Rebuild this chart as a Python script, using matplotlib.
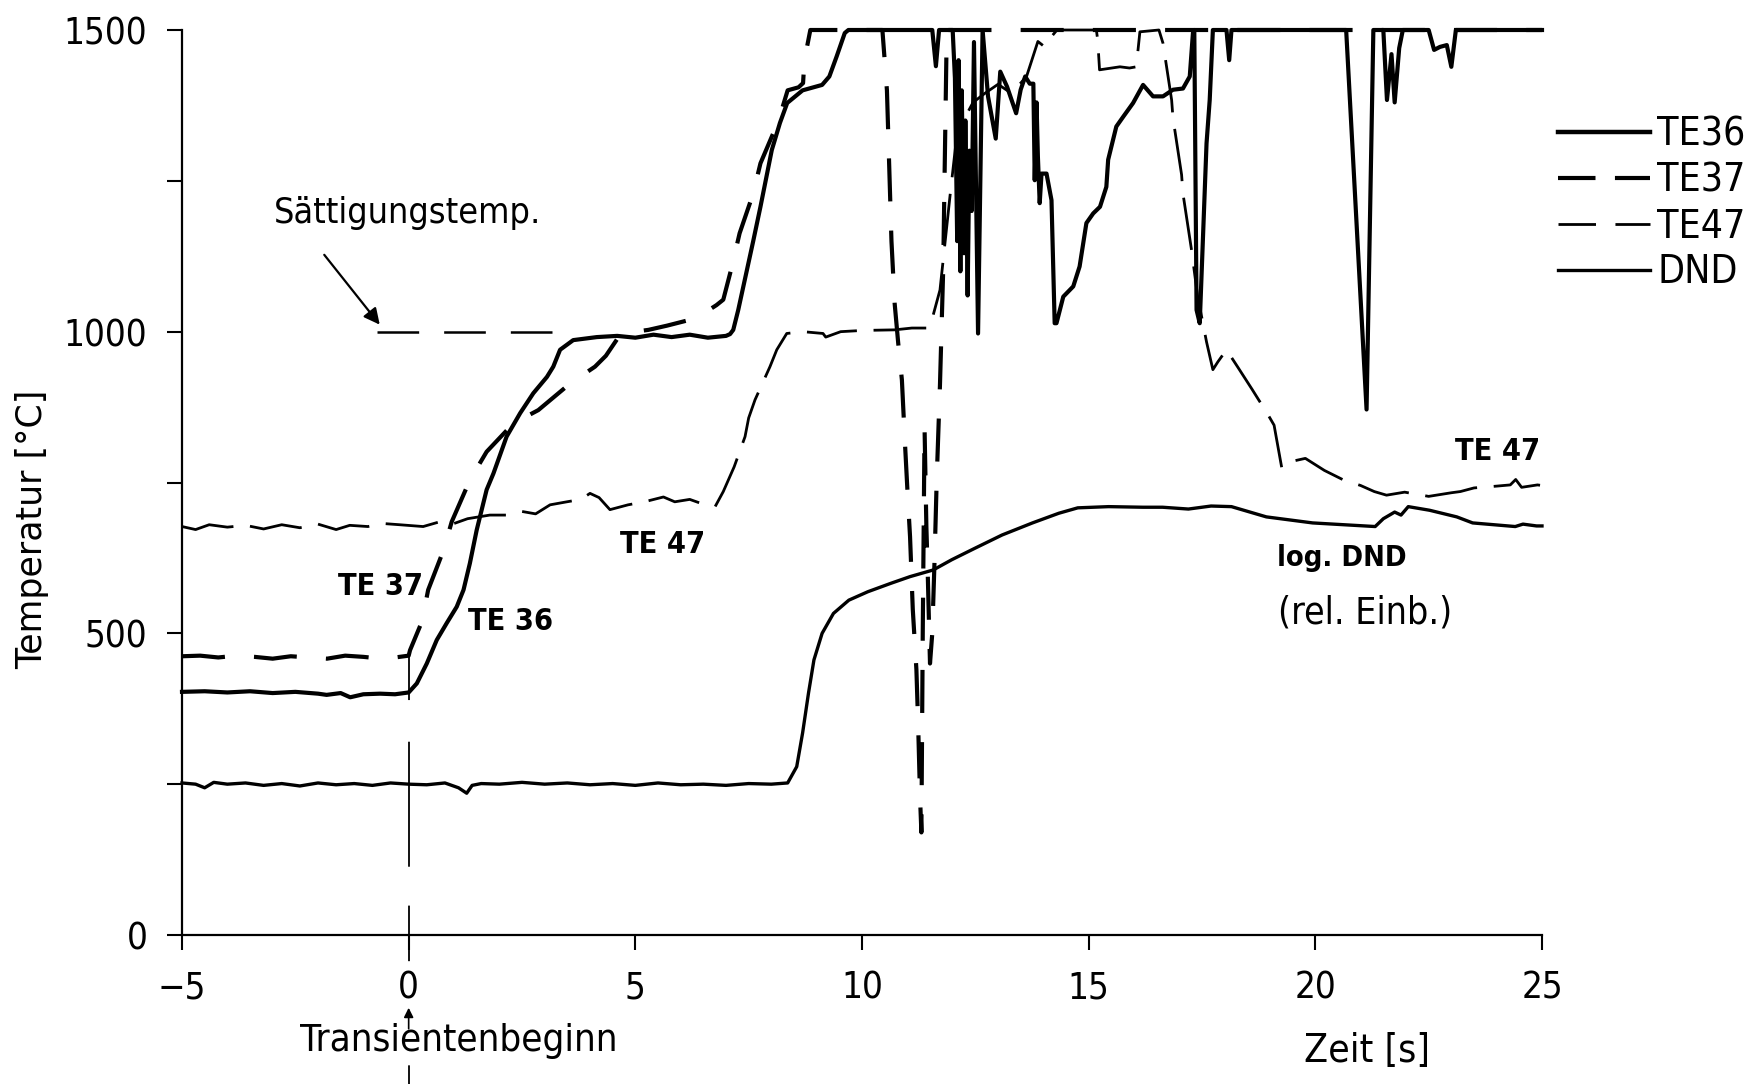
import numpy as np
import matplotlib
matplotlib.use('Agg')
import matplotlib.pyplot as plt
from matplotlib import font_manager
from matplotlib.lines import Line2D

# pick a condensed face if one is installed, the original lettering is narrow
fonts = font_manager.fontManager.ttflist
NARROW, STRETCH, K = 'DejaVu Sans', 'normal', 1.0
for f in fonts:
    if f.name == 'Liberation Sans Narrow':
        NARROW, STRETCH, K = f.name, 'normal', 1.3
        break
else:
    for f in fonts:
        if f.name == 'DejaVu Sans' and str(f.stretch).startswith('condensed'):
            NARROW, STRETCH, K = 'DejaVu Sans', 'condensed', 1.1
            break

plt.rcParams['lines.scale_dashes'] = False

# TE36
t_te36 = [-5.0, -4.5, -4.0, -3.5, -3.0, -2.5, -2.0, -1.81, -1.5, -1.29, -1.0, -0.63, -0.3, 0.0,
          0.18, 0.40, 0.62, 0.84, 1.06, 1.21, 1.35, 1.50, 1.72, 1.87, 2.16, 2.46, 2.75, 3.05, 3.19,
          3.34, 3.63, 4.15, 4.6, 5.0, 5.4, 5.8, 6.2, 6.6, 7.0, 7.09,
          7.16, 7.27, 7.43, 7.6, 7.76, 8.01, 8.19, 8.35, 8.69, 9.12, 9.28, 9.44, 9.62, 9.7,
          10.5, 11.55, 11.63, 11.7, 12.0, 12.05, 12.1, 12.13, 12.17, 12.2, 12.25, 12.28, 12.33,
          12.37, 12.42, 12.47, 12.56, 12.66, 12.78, 12.95, 13.05, 13.2, 13.4, 13.5, 13.6, 13.7,
          13.78, 13.81, 13.85, 13.88, 13.92, 13.96, 14.07, 14.18, 14.25, 14.29, 14.44, 14.66,
          14.8, 14.95, 15.1, 15.25, 15.39, 15.43, 15.61, 15.76, 15.98, 16.2, 16.42, 16.64, 16.86,
          17.08, 17.23, 17.3, 17.33, 17.38, 17.45, 17.6, 17.67, 17.74, 18.04, 18.1, 18.15,
          20.68, 21.13, 21.28, 21.5, 21.58, 21.68, 21.75, 21.85, 21.93, 22.5, 22.62, 22.75,
          22.9, 23.0, 23.1, 24.85, 25.0]
T_te36 = [403, 404, 402, 404, 401, 403, 400, 398, 401, 394, 399, 400, 399, 402,
          417, 450, 489, 517, 544, 572, 616, 671, 738, 765, 826, 865, 898, 925, 942,
          970, 986, 991, 993, 990, 995, 991, 995, 990, 993, 996,
          1003, 1036, 1091, 1150, 1207, 1301, 1346, 1379, 1400, 1409, 1423, 1456, 1495, 1500,
          1500, 1500, 1440, 1500, 1500, 1420, 1150, 1450, 1100, 1400, 1130, 1350, 1060,
          1300, 1200, 1480, 997, 1500, 1390, 1320, 1431, 1406, 1362, 1401, 1423, 1411,
          1411, 1251, 1380, 1290, 1213, 1262, 1262, 1218, 1014, 1014, 1058, 1075,
          1108, 1180, 1196, 1207, 1240, 1285, 1340, 1356, 1379, 1409, 1390, 1390, 1401,
          1403, 1423, 1495, 1500, 1036, 1014, 1312, 1384, 1500, 1500, 1450, 1500,
          1500, 871, 1500, 1500, 1384, 1460, 1380, 1470, 1500, 1500, 1467, 1472,
          1475, 1439, 1500, 1500, 1500]

# TE37
t_te37 = [-5.0, -4.6, -4.2, -3.8, -3.4, -3.0, -2.6, -2.2, -1.8, -1.4, -1.0, -0.6, -0.3, 0.0,
          0.03, 0.29, 0.43, 0.77, 0.95, 1.35, 1.72, 2.31, 2.86, 3.56, 4.11, 4.35, 4.62, 5.0,
          5.29, 5.7, 6.17, 6.5, 6.79, 6.94, 7.13, 7.3, 7.6, 7.76, 8.15, 8.36, 8.6, 8.7, 8.73,
          8.86, 10.45, 10.55, 10.65, 10.72, 10.8, 10.88, 10.95, 11.0, 11.06, 11.12, 11.2, 11.24,
          11.28, 11.31, 11.34, 11.38, 11.42, 11.45, 11.5, 11.55, 11.6, 11.65, 11.72, 11.79,
          11.83, 11.87, 25.0]
T_te37 = [462, 463, 460, 463, 461, 458, 462, 460, 458, 463, 461, 458, 460, 463,
          472, 519, 572, 638, 685, 754, 801, 848, 870, 914, 942, 960, 990, 1000,
          1003, 1010, 1019, 1030, 1044, 1053, 1108, 1163, 1229, 1279, 1348, 1400, 1405, 1412, 1450,
          1500, 1500, 1400, 1150, 1047, 980, 920, 812, 740, 660, 540, 440, 345,
          229, 170, 500, 840, 677, 600, 450, 500, 620, 760, 912, 1100,
          1300, 1500, 1500]

# TE47
t_te47 = [-5.0, -4.7, -4.4, -4.0, -3.6, -3.2, -2.8, -2.4, -2.0, -1.6, -1.3, -0.9, -0.56, -0.2,
          0.32, 0.69, 1.0, 1.3, 1.79, 2.16, 2.5, 2.8, 3.12, 3.49, 3.8, 4.0, 4.2, 4.44, 4.84, 5.2,
          5.62, 5.87, 6.2, 6.5, 6.76, 6.94, 7.18, 7.42, 7.5, 7.64, 7.97, 8.12, 8.34, 8.7, 9.14,
          9.2, 9.53, 10.0, 10.72, 11.1, 11.43, 11.5, 11.72, 11.94, 12.08, 12.2, 12.45, 12.71,
          13.0, 13.3, 13.63, 13.88, 14.03, 14.18, 14.3, 15.17, 15.2, 15.24, 15.69, 15.9, 16.05,
          16.13, 16.55, 16.64, 16.83, 16.86, 17.05, 17.08, 17.27, 17.4, 17.52, 17.6, 17.74,
          17.85, 18.04, 18.3, 18.6, 18.75, 18.92, 19.09, 19.26, 19.48, 19.78, 20.2, 20.6, 21.0,
          21.3, 21.57, 21.97, 22.5, 23.0, 23.2, 23.5, 24.0, 24.3, 24.42, 24.55, 24.9, 25.0]
T_te47 = [677, 672, 680, 676, 679, 673, 680, 675, 681, 672, 679, 677, 682, 680,
          677, 685, 682, 690, 696, 696, 702, 698, 713, 718, 722, 732, 725, 705, 713, 718,
          726, 718, 722, 714, 710, 735, 776, 826, 857, 887, 942, 970, 997, 1000, 997,
          991, 1000, 1002, 1003, 1006, 1006, 1008, 1069, 1224, 1318, 1345, 1380, 1395,
          1410, 1395, 1423, 1481, 1472, 1489, 1500, 1500, 1483, 1434, 1439, 1437, 1439,
          1497, 1500, 1478, 1384, 1354, 1260, 1229, 1135, 1060, 1014, 983, 937,
          950, 970, 940, 905, 887, 867, 845, 774, 785, 790, 770, 755, 745,
          735, 729, 734, 727, 733, 735, 741, 744, 746, 755, 742, 746, 745]

# DND
t_dnd = [-5.0, -4.7, -4.5, -4.3, -4.0, -3.6, -3.2, -2.8, -2.4, -2.0, -1.6, -1.2, -0.8, -0.4,
         0.0, 0.4, 0.8, 1.1, 1.28, 1.4, 1.6, 2.0, 2.5, 3.0, 3.5, 4.0, 4.5, 5.0, 5.5, 6.0, 6.5,
         7.0, 7.5, 8.0, 8.36, 8.56, 8.69, 8.82, 8.94, 9.12, 9.37, 9.71, 10.13, 10.64, 11.06,
         11.57, 11.98, 12.49, 13.09, 13.76, 14.34, 14.76, 15.44, 16.2, 16.63, 17.2, 17.7,
         18.15, 18.92, 19.94, 21.32, 21.5, 21.75, 21.89, 22.05, 22.52, 23.12, 23.47, 24.41,
         24.58, 24.88, 25.0]
T_dnd = [252, 250, 244, 253, 250, 252, 248, 251, 247, 252, 249, 251, 248, 252,
         250, 249, 252, 244, 235, 248, 251, 250, 253, 250, 252, 249, 251, 248, 252, 249, 250,
         248, 251, 250, 252, 279, 335, 401, 456, 500, 533, 555, 569, 583, 594,
         605, 622, 641, 663, 683, 699, 708, 710, 709, 709, 706, 711,
         710, 693, 683, 677, 690, 701, 696, 710, 704, 693, 683, 677,
         681, 678, 678]

t_sat = [-0.69, 3.3]
T_sat = [1000, 1000]

x_ticks = [-5, 0, 5, 10, 15, 20, 25]
y_ticks = [0, 250, 500, 750, 1000, 1250, 1500]
y_labels = ['0', '', '500', '', '1000', '', '1500']
series_names = ['TE36', 'TE37', 'TE47', 'DND']

fig = plt.figure(figsize=(17.6, 10.84), dpi=100)
ax = fig.add_axes([182 / 1760, 149 / 1084, 1360 / 1760, 905 / 1084])

ax.plot(t_te36, T_te36, color='black', lw=3.0, clip_on=False)
ax.plot(t_te37, T_te37, color='black', lw=3.0, dashes=(31, 21), clip_on=False)
ax.plot(t_te47, T_te47, color='black', lw=2.0, dashes=(38, 12), clip_on=False)
ax.plot(t_dnd, T_dnd, color='black', lw=2.4, clip_on=False)
ax.plot(t_sat, T_sat, color='black', lw=1.8, dashes=(30, 18))

ax.set_xlim(-5, 25)
ax.set_ylim(0, 1500)
ax.set_xticks(x_ticks)
ax.set_yticks(y_ticks)
ax.set_yticklabels(y_labels)
for s in ['top', 'right']:
    ax.spines[s].set_visible(False)
for s in ['left', 'bottom']:
    ax.spines[s].set_linewidth(1.6)
ax.tick_params(direction='out', length=11, width=1.5, pad=14, labelsize=24 * K)
for lab in ax.get_xticklabels() + ax.get_yticklabels():
    lab.set_family(NARROW)
    lab.set_stretch(STRETCH)

txt = dict(family=NARROW, stretch=STRETCH)
ax.text(-0.11, 0.448, 'Temperatur [°C]', transform=ax.transAxes, rotation=90,
        ha='center', va='center', fontsize=25, family='DejaVu Sans')
ax.text(21.15, -192, 'Zeit [s]', ha='center', va='center', fontsize=25.5 * K, clip_on=False, **txt)
ax.text(1.1, -176, 'Transientenbeginn', ha='center', va='center', fontsize=25 * K,
        clip_on=False, bbox=dict(fc='white', ec='none', pad=0), **txt)

# transient start marker
ax.plot([0, 0], [461, -250], color='black', lw=1.3, dashes=(31, 30, 90, 28, 40, 75, 30, 20),
        clip_on=False)
ax.annotate('', xy=(0, -116), xytext=(0, -160), annotation_clip=False,
            arrowprops=dict(arrowstyle='-|>', color='black', lw=1.2, mutation_scale=14))

ax.text(-0.02, 1196, 'Sättigungstemp.', ha='center', va='center', fontsize=23.5 * K, **txt)
ax.annotate('', xy=(-0.6, 1008), xytext=(-1.9, 1131),
            arrowprops=dict(arrowstyle='-|>', color='black', lw=1.6, mutation_scale=24))

bold = dict(fontsize=20 * K, fontweight='bold', ha='center', va='center', **txt)
ax.text(-0.63, 578, 'TE 37', **bold)
ax.text(2.24, 520, 'TE 36', **bold)
ax.text(5.6, 648, 'TE 47', **bold)
ax.text(24.02, 802, 'TE 47', **bold)
ax.text(19.15, 625, 'log. DND', fontsize=19 * K, fontweight='bold', ha='left', va='center', **txt)
ax.text(19.17, 534, '(rel. Einb.)', fontsize=24.5 * K, ha='left', va='center', **txt)

handles = [Line2D([], [], color='black', lw=3.2),
           Line2D([], [], color='black', lw=3.0, dashes=(27, 14)),
           Line2D([], [], color='black', lw=2.0, dashes=(27, 14)),
           Line2D([], [], color='black', lw=2.4)]
fig.legend(handles, series_names, loc='upper left', bbox_to_anchor=(1558 / 1760, 1 - 116 / 1084),
           frameon=False, handlelength=2.35, handletextpad=0.2, labelspacing=0.2,
           borderpad=0, borderaxespad=0, prop=dict(family=NARROW, stretch=STRETCH, size=25.5 * K))

fig.savefig('out.png', dpi=100, facecolor='white')
